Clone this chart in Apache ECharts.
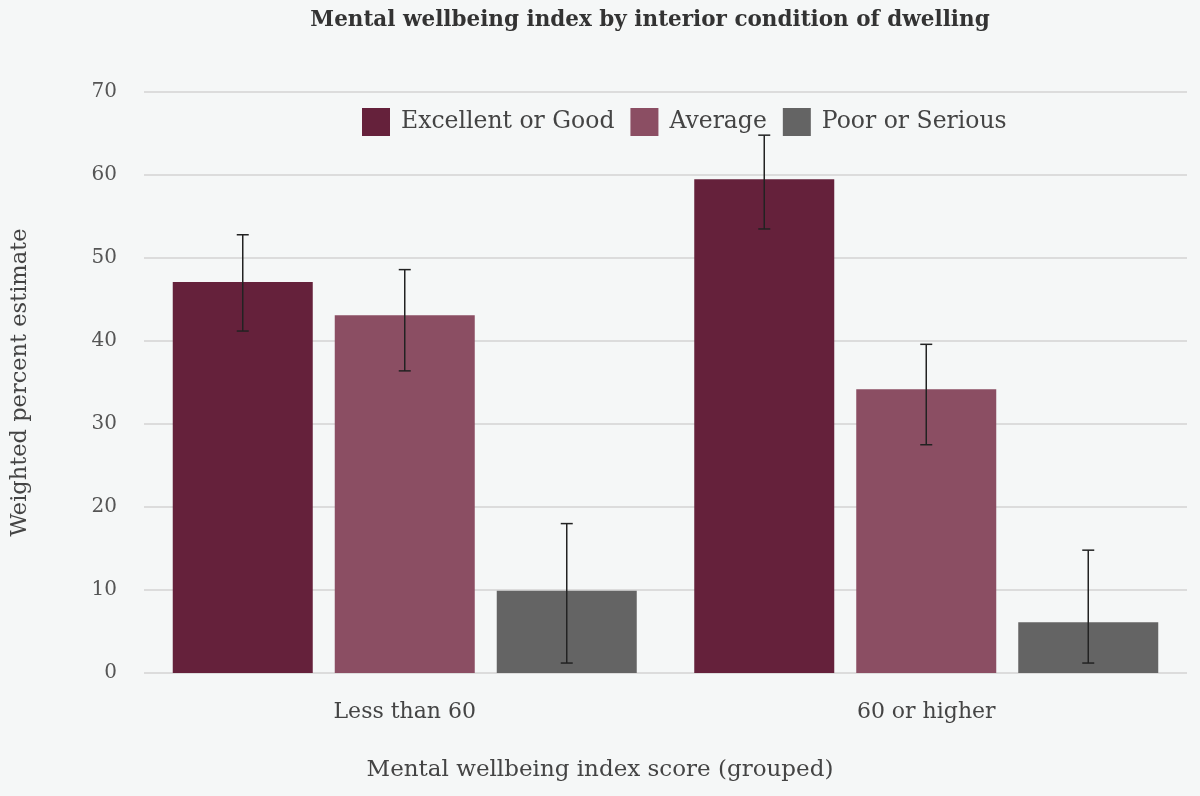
<!DOCTYPE html>
<html>
<head>
<meta charset="utf-8">
<script src="https://cdn.jsdelivr.net/npm/echarts@6/dist/echarts.min.js"></script>
<style>
html,body{margin:0;padding:0;background:#f5f7f7;}
#main{width:1200px;height:796px;}
</style>
</head>
<body>
<div id="main"></div>
<script>
const categories = ['Less than 60', '60 or higher'];
const seriesNames = ['Excellent or Good', 'Average', 'Poor or Serious'];
const excellent = [47.1, 59.5];
const average = [43.1, 34.2];
const poor = [9.9, 6.1];
const excellentLow = [41.2, 53.5];
const excellentHigh = [52.8, 64.8];
const averageLow = [36.4, 27.5];
const averageHigh = [48.6, 39.6];
const poorLow = [1.2, 1.2];
const poorHigh = [18.0, 14.8];
const yTicks = [0, 10, 20, 30, 40, 50, 60, 70];

const colors = ['#65213b', '#8b4e63', '#646464'];
const values = [excellent, average, poor];
const lows = [excellentLow, averageLow, poorLow];
const highs = [excellentHigh, averageHigh, poorHigh];
const FONT = 'DejaVu Serif';
const BAR_W = 140, BAR_GAP = 22;

const chart = echarts.init(document.getElementById('main'));
const series = [];
seriesNames.forEach((name, i) => {
  series.push({
    name: name,
    type: 'bar',
    data: values[i],
    barWidth: BAR_W,
    barGap: (BAR_GAP / BAR_W * 100) + '%',
    itemStyle: { color: colors[i] },
    z: 2
  });
});
seriesNames.forEach((name, i) => {
  series.push({
    type: 'custom',
    name: name + ' CI',
    z: 5,
    data: categories.map((c, j) => [j, lows[i][j], highs[i][j]]),
    renderItem: function (params, api) {
      const x = api.value(0);
      const lo = api.coord([x, api.value(1)]);
      const hi = api.coord([x, api.value(2)]);
      const off = (i - 1) * (BAR_W + BAR_GAP);
      const cx = lo[0] + off;
      const cap = 6;
      const st = { stroke: '#222', lineWidth: 1.5 };
      return {
        type: 'group',
        children: [
          { type: 'line', shape: { x1: cx, y1: hi[1], x2: cx, y2: lo[1] }, style: st },
          { type: 'line', shape: { x1: cx - cap, y1: hi[1], x2: cx + cap, y2: hi[1] }, style: st },
          { type: 'line', shape: { x1: cx - cap, y1: lo[1], x2: cx + cap, y2: lo[1] }, style: st }
        ]
      };
    },
    tooltip: { show: false }
  });
});

chart.setOption({
  backgroundColor: '#f5f7f7',
  title: {
    text: 'Mental wellbeing index by interior condition of dwelling',
    left: 645, textAlign: 'center', top: 4,
    textStyle: { fontFamily: FONT, fontSize: 21.5, fontWeight: 'bold', color: '#333' }
  },
  legend: {
    data: seriesNames,
    left: 362, top: 108, padding: 0,
    itemWidth: 28, itemHeight: 28, itemGap: 16,
    icon: 'rect',
    textStyle: { fontFamily: FONT, fontSize: 23.5, color: '#444', padding: [2, 0, 0, 6] }
  },
  grid: { left: 144, right: 13, top: 92, bottom: 123, containLabel: false },
  xAxis: {
    type: 'category',
    data: categories,
    axisLine: { show: false },
    axisTick: { show: false },
    axisLabel: { fontFamily: FONT, fontSize: 22, color: '#444', margin: 28 }
  },
  yAxis: {
    type: 'value',
    min: yTicks[0], max: yTicks[yTicks.length - 1], interval: 10,
    name: 'Weighted percent estimate',
    nameLocation: 'middle', nameGap: 112,
    nameTextStyle: { fontFamily: FONT, fontSize: 22.5, color: '#444' },
    axisLine: { show: false },
    axisTick: { show: false },
    axisLabel: { fontFamily: FONT, fontSize: 20, color: '#555', margin: 27 },
    splitLine: { lineStyle: { color: '#d3d3d3', width: 1.5 } }
  },
  graphic: [{
    type: 'text', left: 'center', top: 759,
    style: { text: 'Mental wellbeing index score (grouped)', font: '23px "DejaVu Serif"', fill: '#444' }
  }],
  series: series
});
</script>
</body>
</html>
